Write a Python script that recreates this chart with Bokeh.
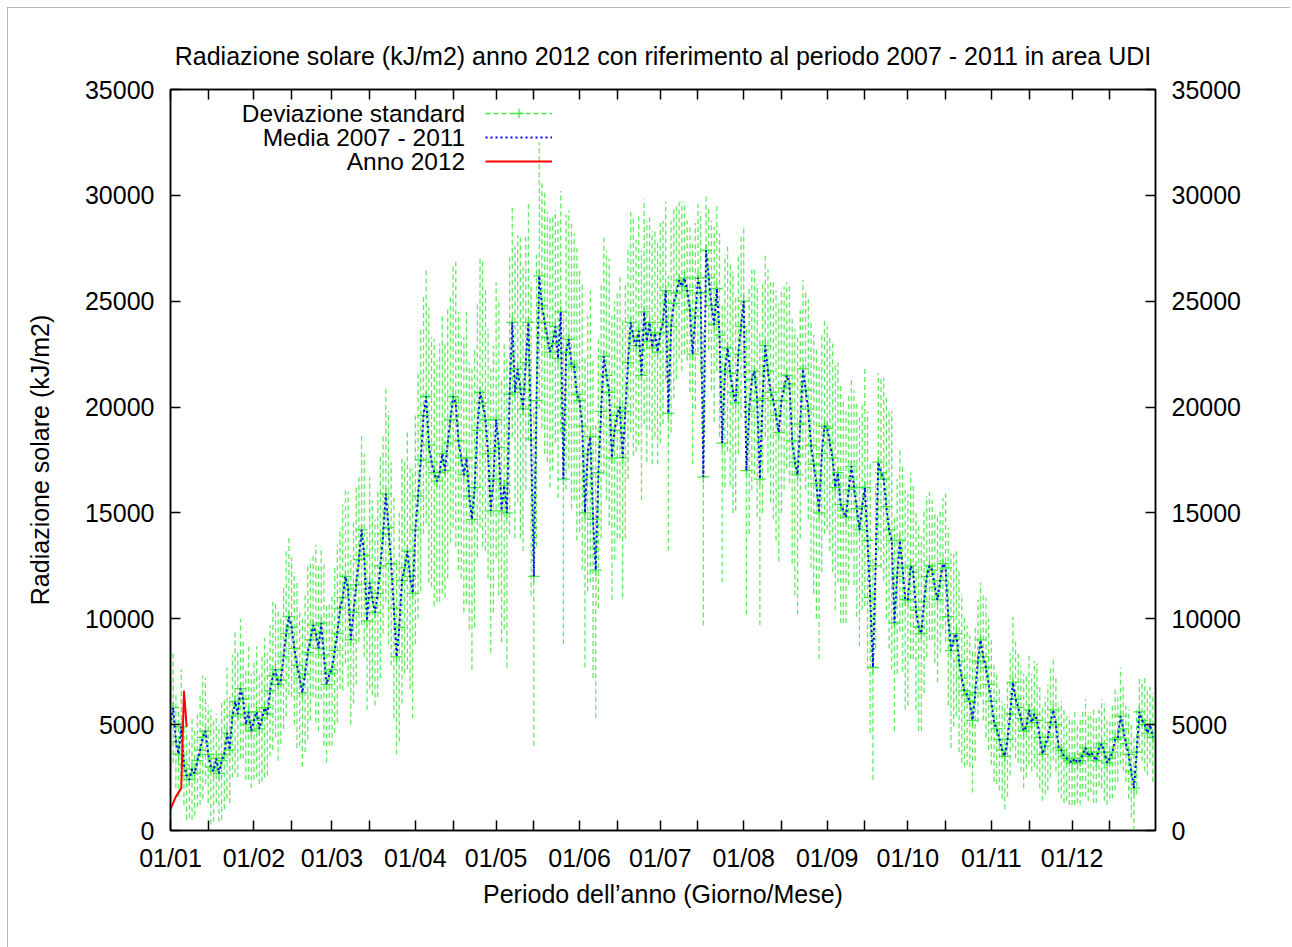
from bokeh.plotting import figure
from bokeh.models import Range1d, LinearAxis, FixedTicker, Legend, LegendItem, Label, ColumnDataSource
from bokeh.embed import file_html
from bokeh.resources import INLINE

# ---------------- data ----------------
month_labels = ["01/01", "01/02", "01/03", "01/04", "01/05", "01/06",
                "01/07", "01/08", "01/09", "01/10", "01/11", "01/12"]
days_in_month = [31, 29, 31, 30, 31, 30, 31, 31, 30, 31, 30, 31]
y_ticks = [0, 5000, 10000, 15000, 20000, 25000, 30000, 35000]

media_gen = [5000, 5800, 4200, 3600, 4900, 3100, 2600, 2400, 2900, 2700, 3300, 3800, 4400, 4700, 3600, 3000,
             2800, 3400, 2700, 3300, 3600, 4600, 3800, 5400, 6100, 5500, 6700, 6200, 5000, 5600, 4700]
media_feb = [5200, 5600, 4800, 5300, 5800, 5500, 6600, 7300, 7600, 6900, 7100, 8200, 9300, 10100, 9600,
             8600, 7800, 7200, 6500, 7400, 8400, 9000, 9700, 9300, 8600, 9800, 8300, 6900, 7400]
media_mar = [7600, 8500, 9300, 10500, 11000, 12000, 11400, 9000, 10300, 11600, 12800, 14200, 13000, 9900,
             11700, 11000, 10300, 11200, 12500, 14000, 15900, 14300, 12600, 10500, 8200, 9600, 11800, 12400,
             13200, 12000, 11200]
media_apr = [14200, 15800, 17500, 19600, 20500, 18200, 17400, 16900, 16500, 16900, 17800, 17000, 18300, 19400,
             20500, 20200, 18400, 17600, 16800, 17600, 15800, 14700, 16200, 18900, 20700, 20200, 19400, 17800,
             15100, 16600]
media_mag = [19400, 18100, 15100, 16300, 15000, 20600, 24000, 20700, 21800, 20900, 19900, 22100, 24000, 18500,
             12000, 20300, 26200, 24800, 24000, 23300, 22600, 23000, 23800, 22300, 24500, 16600, 22600, 23200,
             22000, 21900, 20600]
media_giu = [20300, 19100, 15000, 17800, 18600, 14700, 12300, 16900, 19800, 22400, 21500, 20700, 17600, 18900,
             19600, 20000, 17600, 19800, 22100, 24000, 23300, 22900, 23600, 21500, 24500, 23100, 24000, 22800,
             23500, 22600]
media_lug = [23500, 24000, 25500, 19700, 23800, 24900, 25400, 26000, 25700, 26100, 25500, 24600, 22500, 24300,
             26100, 25400, 16700, 27400, 26100, 24800, 23900, 25600, 23400, 18300, 21700, 22800, 21600, 20700,
             20200, 22500, 23800]
media_ago = [25000, 17000, 19800, 21300, 21700, 20300, 16600, 20400, 22900, 21700, 20700, 20300, 19600, 18800,
             20300, 20900, 21500, 21100, 18400, 17400, 16800, 19200, 21800, 20800, 19900, 18200, 17300, 16400,
             15000, 17800, 19100]
media_set = [19000, 18300, 17600, 16200, 16900, 15400, 15100, 14800, 16100, 17200, 16200, 15200, 14200, 15300,
             16200, 13700, 11000, 7700, 12500, 17400, 16900, 16600, 15300, 14200, 13700, 9800, 12000, 13700,
             12400, 10900]
media_ott = [10900, 12500, 12200, 10400, 9600, 9300, 10800, 12000, 12500, 12300, 11500, 10900, 11800, 12600,
             12400, 10100, 8500, 9000, 9300, 8000, 7200, 6600, 6400, 6100, 5200, 6500, 8000, 9000, 8200, 7700, 6900]
media_nov = [6100, 5100, 4800, 4300, 3800, 3500, 4300, 5500, 7000, 6200, 5800, 5300, 4700, 4900, 5700, 5100,
             5500, 5200, 4400, 3600, 4000, 4400, 5100, 5700, 5000, 3900, 3800, 3500, 3400, 3300]
media_dic = [3200, 3400, 3200, 3300, 3600, 3900, 3500, 3700, 3500, 3300, 3900, 4100, 3700, 3200, 3400, 3700,
             4300, 4400, 5400, 4800, 4100, 3600, 2800, 2000, 3700, 5600, 5200, 5000, 4600, 5000, 4400]

dev_gen = [2300, 2600, 2200, 2000, 2700, 1900, 2100, 1800, 2400, 2000, 2200, 2600, 2900, 2500, 2300, 2700,
           2400, 2100, 2300, 2800, 2600, 3100, 2500, 2900, 3400, 3000, 3300, 2800, 2600, 3200, 2700]
dev_feb = [2800, 3100, 2600, 3000, 3300, 2900, 3100, 3500, 3200, 3600, 3000, 3400, 3900, 3700, 3300, 3600,
           3900, 3200, 3500, 3700, 4100, 3800, 3400, 4200, 3900, 3600, 4300, 3700, 3400]
dev_mar = [3600, 3900, 4200, 3800, 4400, 4100, 4600, 4000, 4300, 4700, 3900, 4500, 4800, 4200, 5000, 4600,
           4400, 4900, 5300, 4700, 5100, 5500, 4800, 5200, 4600, 5400, 5800, 5000, 5600, 5300, 5900]
dev_apr = [5400, 5800, 6200, 5600, 6000, 6500, 5900, 6300, 5700, 6100, 6600, 6000, 6400, 5800, 6200, 6800,
           6100, 5700, 6500, 6900, 6300, 7100, 6600, 6000, 6400, 6800, 6200, 5900, 6700, 6300]
dev_mag = [6500, 7000, 6200, 6800, 7300, 6600, 5400, 6900, 6300, 7100, 6700, 6000, 5600, 7400, 8000, 6900,
           6300, 5800, 6200, 5900, 6400, 6000, 5500, 6600, 5700, 7800, 6500, 6100, 6800, 6300, 6900]
dev_giu = [6200, 6800, 7300, 6500, 6900, 7500, 7000, 6400, 6000, 5600, 5900, 6300, 6700, 6100, 5800, 6200,
           6600, 6000, 5500, 5200, 5600, 5000, 5400, 5900, 5300, 5700, 5100, 5500, 4900, 5300]
dev_lug = [5200, 4800, 4200, 6500, 5000, 4500, 4100, 3700, 4000, 3600, 3300, 3900, 5200, 4400, 3500, 3800,
           7000, 2600, 3400, 4000, 4600, 3900, 4800, 6600, 5500, 4900, 5300, 5700, 5100, 4700, 4300]
dev_ago = [3600, 6800, 5800, 5200, 4900, 5500, 6900, 5400, 4300, 4800, 5200, 5600, 5900, 6100, 5300, 4800,
           4400, 4700, 5800, 6300, 6600, 5400, 4200, 4700, 5200, 5800, 6100, 6400, 6900, 5600, 5100]
dev_set = [4800, 5100, 5400, 5800, 5200, 5600, 5300, 5000, 4500, 4100, 4600, 5100, 5500, 4900, 5600, 6100,
           6400, 5300, 3900, 4200, 4500, 4800, 5300, 5600, 6100, 5100, 4600, 4300, 4900, 5200]
dev_ott = [5000, 4400, 4100, 4700, 4900, 4600, 4300, 3800, 3500, 3300, 3600, 3900, 3400, 3100, 3500, 4200,
           4600, 4100, 3900, 4300, 4000, 3600, 3300, 3100, 3400, 3200, 2900, 2700, 3000, 3300, 3100]
dev_nov = [3000, 2800, 2600, 2400, 2300, 2500, 2700, 2900, 3100, 2800, 2600, 2500, 2700, 2400, 2600, 2300,
           2500, 2700, 2400, 2200, 2300, 2500, 2600, 2400, 2200, 2100, 2300, 2200, 2000, 2100]
dev_dic = [2000, 2200, 1900, 2100, 2000, 2300, 2100, 1900, 2200, 2000, 1800, 2100, 2300, 2000, 1900, 2200,
           2400, 2100, 2300, 2000, 1800, 2100, 2200, 2400, 2000, 1700, 1900, 2200, 2000, 1800, 2100]

anno_2012 = [1000, 1300, 1600, 1800, 2000, 6600, 4900]

# ---------------- assemble ----------------
media = (media_gen + media_feb + media_mar + media_apr + media_mag + media_giu +
         media_lug + media_ago + media_set + media_ott + media_nov + media_dic)
devstd = (dev_gen + dev_feb + dev_mar + dev_apr + dev_mag + dev_giu +
          dev_lug + dev_ago + dev_set + dev_ott + dev_nov + dev_dic)
n = min(len(media), len(devstd))
media, devstd = media[:n], devstd[:n]
giorni = list(range(n))
src = ColumnDataSource(dict(x=giorni, m=media,
                            lo=[m - s for m, s in zip(media, devstd)],
                            hi=[m + s for m, s in zip(media, devstd)]))

month_start = []
acc = 0
for d in days_in_month:
    month_start.append(acc)
    acc += d
x_ticks = []
x_over = {}
for lab, s in zip(month_labels, month_start):
    x_ticks += [s, s + 14]
    x_over[s] = lab
    x_over[s + 14] = ""
total_days = acc

FONT = "Liberation Sans"
FS = "25px"
GREEN = "#45e845"
BLUE = "#0000ff"
RED = "#ff0000"

p = figure(width=1283, height=940, output_backend="svg", toolbar_location=None,
           x_range=Range1d(0, total_days), y_range=Range1d(0, 35000),
           min_border_left=163, min_border_right=135, min_border_top=82, min_border_bottom=117)
p.styles = {"margin-left": "7px", "margin-top": "7px",
            "outline": "1px solid #a0a0a0", "outline-offset": "-1px"}
p.grid.visible = False
p.outline_line_color = "black"
p.outline_line_width = 1.5

p.title.text = "Radiazione solare (kJ/m2) anno 2012 con riferimento al periodo 2007 - 2011 in area UDI"
p.title.align = "center"
p.title.text_font = FONT
p.title.text_font_size = FS
p.title.text_font_style = "normal"
p.title.text_color = "black"
p.title.standoff = 40

xt = FixedTicker(ticks=x_ticks)
yt = FixedTicker(ticks=y_ticks)

def style_axis(ax, labels=True):
    ax.axis_line_color = "black"
    ax.axis_line_width = 1.5
    ax.major_tick_in = 10
    ax.major_tick_out = 0
    ax.major_tick_line_color = "black"
    ax.major_tick_line_width = 1.5
    ax.minor_tick_line_color = None
    ax.major_label_text_font = FONT
    ax.major_label_text_font_size = FS if labels else "0px"
    ax.major_label_text_color = "black"
    ax.axis_label_text_font = FONT
    ax.axis_label_text_font_size = FS
    ax.axis_label_text_font_style = "normal"
    ax.axis_label_text_color = "black"

xa = p.xaxis[0]
xa.ticker = xt
xa.major_label_overrides = x_over
xa.axis_label = "Periodo dell\u2019anno (Giorno/Mese)"
style_axis(xa)
xa.major_label_standoff = 13
xa.axis_label_standoff = 5

ya = p.yaxis[0]
ya.ticker = yt
ya.axis_label = "Radiazione solare (kJ/m2)"
style_axis(ya)
ya.major_label_standoff = 16
ya.axis_label_standoff = 28

ra = LinearAxis(ticker=yt)
style_axis(ra)
ra.major_label_standoff = 16
p.add_layout(ra, "right")

ta = LinearAxis(ticker=xt)
style_axis(ta, labels=False)
ta.major_label_overrides = {t: "" for t in x_ticks}
ta.major_label_standoff = 0
p.add_layout(ta, "above")

# ---------------- glyphs ----------------
p.segment(x0="x", y0="lo", x1="x", y1="hi", source=src, line_color=GREEN,
          line_dash="5 3", line_width=1.3, line_alpha=0.85)
g_line = p.line("x", "m", source=src, line_color=GREEN, line_dash="5 3", line_width=1.3)
g_pts = p.scatter("x", "m", source=src, marker="cross", size=12, line_color=GREEN, line_width=1.3)
b_line = p.line("x", "m", source=src, line_color=BLUE, line_dash="2 3", line_width=2)
r_line = p.line(giorni[:len(anno_2012)], anno_2012, line_color=RED, line_width=2)

legend = Legend(items=[LegendItem(label=" ", renderers=[g_line, g_pts]),
                       LegendItem(label=" ", renderers=[b_line]),
                       LegendItem(label=" ", renderers=[r_line])],
                location=(315, 657), glyph_width=67, glyph_height=24, spacing=0, padding=0,
                margin=0, label_standoff=0, label_text_font_size="1px", label_height=1, label_width=1,
                border_line_alpha=0, background_fill_alpha=0)
p.add_layout(legend)

leg_texts = ["Deviazione standard", "Media 2007 - 2011", "Anno 2012"]
leg_x = 109.5
leg_y = [33866, 32733, 31599]
for t, yy in zip(leg_texts, leg_y):
    p.add_layout(Label(x=leg_x, y=yy, text=t, text_align="right", text_baseline="middle",
                       text_font=FONT, text_font_size="24.5px", text_color="black"))

open("out.html", "w").write(file_html(p, INLINE))
